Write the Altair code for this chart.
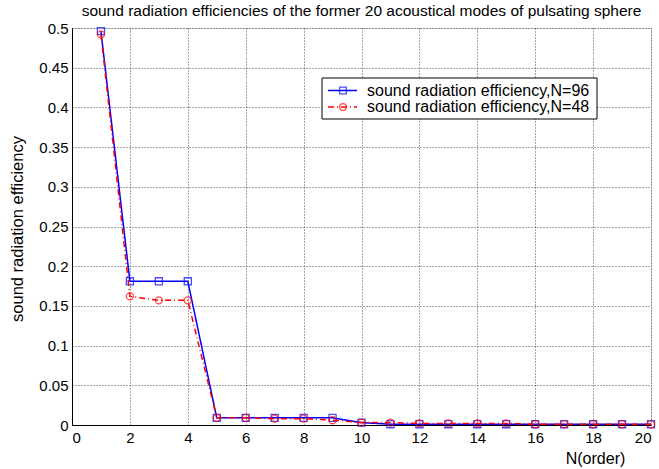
import altair as alt
import pandas as pd

orders = list(range(1, 21))
eff_96 = [0.496, 0.181, 0.181, 0.181, 0.009, 0.009, 0.009, 0.009, 0.009, 0.003,
          0.001, 0.001, 0.001, 0.001, 0.001, 0.001, 0.001, 0.001, 0.001, 0.001]
eff_48 = [0.492, 0.162, 0.157, 0.157, 0.009, 0.009, 0.008, 0.008, 0.006, 0.003,
          0.003, 0.002, 0.002, 0.002, 0.002, 0.001, 0.001, 0.001, 0.001, 0.001]
series_names = ["sound radiation efficiency,N=96", "sound radiation efficiency,N=48"]
series_colors = ["#0000ff", "#ff0000"]
series_shapes = ["square", "circle"]
series_dash = [[1, 0], [6, 3, 1, 3]]

df = pd.DataFrame({
    "order": orders * 2,
    "eff": eff_96 + eff_48,
    "series": [series_names[0]] * 20 + [series_names[1]] * 20,
})

FONT = "Liberation Sans"
W, H = 579, 397

x_enc = alt.X("order:Q",
              scale=alt.Scale(domain=[0, 20], nice=False),
              axis=alt.Axis(values=list(range(0, 21, 2)), title="N(order)",
                            titleX=523, titleY=33, titleAlign="center",
                            titleBaseline="middle",
                            titleFontSize=16, titleFontWeight="normal",
                            labelFontSize=15, labelPadding=5, tickSize=0,
                            grid=True, gridDash=[1, 2], gridColor="#222222",
                            gridOpacity=0.8, domainColor="black",
                            labelColor="black", titleColor="black"))
y_enc = alt.Y("eff:Q",
              scale=alt.Scale(domain=[0, 0.5], nice=False),
              axis=alt.Axis(values=[i * 0.05 for i in range(11)], format=".2~f",
                            title="sound radiation efficiency",
                            titleX=-55, titleY=H / 2 + 2, titleBaseline="middle",
                            titleAlign="center",
                            titleFontSize=16.5, titleFontWeight="normal",
                            labelFontSize=15, labelPadding=4, tickSize=0,
                            grid=True, gridDash=[1, 2], gridColor="#222222",
                            gridOpacity=0.8, domainColor="black",
                            labelColor="black", titleColor="black"))

layers = []
for name, col, shp, dash in zip(series_names, series_colors, series_shapes, series_dash):
    sub = df[df["series"] == name]
    base = alt.Chart(sub)
    layers.append(base.mark_line(color=col, strokeWidth=1.5, strokeDash=dash, clip=False)
                  .encode(x=x_enc, y=y_enc))
    layers.append(base.mark_point(color=col, shape=shp, size=50, strokeWidth=1.3,
                                  filled=False, clip=False)
                  .encode(x=x_enc, y=y_enc))

# legend (manual)
one = pd.DataFrame({"k": [0]})
legend_layers = [
    alt.Chart(one).mark_rect(fill="white", stroke="black", strokeWidth=1)
    .encode(x=alt.value(250), x2=alt.value(525), y=alt.value(50), y2=alt.value(91))
]
row_y = [62.5, 79]
for name, col, shp, dash, ry in zip(series_names, series_colors, series_shapes, series_dash, row_y):
    legend_layers.append(
        alt.Chart(one).mark_rule(color=col, strokeWidth=1.5, strokeDash=dash)
        .encode(x=alt.value(256), x2=alt.value(285), y=alt.value(ry)))
    legend_layers.append(
        alt.Chart(one).mark_point(color=col, shape=shp, size=45, strokeWidth=1.3, filled=False)
        .encode(x=alt.value(271), y=alt.value(ry)))
    legend_layers.append(
        alt.Chart(pd.DataFrame({"t": [name]})).mark_text(align="left", baseline="middle",
                                                          fontSize=16, font=FONT, color="black")
        .encode(x=alt.value(295), y=alt.value(ry), text="t:N"))

chart = alt.layer(*layers, *legend_layers).properties(
    width=W, height=H,
    title=alt.TitleParams("sound radiation efficiencies of the former 20 acoustical modes of pulsating sphere",
                          fontSize=15.5, fontWeight="normal", font=FONT, color="black",
                          anchor="middle", offset=2),
    autosize=alt.AutoSizeParams(type="none"),
    padding={"left": 72, "top": 28, "right": 8, "bottom": 44},
).configure_view(stroke="black", strokeWidth=1.2).configure(
    font=FONT, background="white"
)

chart.save("out.html", embed_options={"renderer": "svg", "actions": False})
